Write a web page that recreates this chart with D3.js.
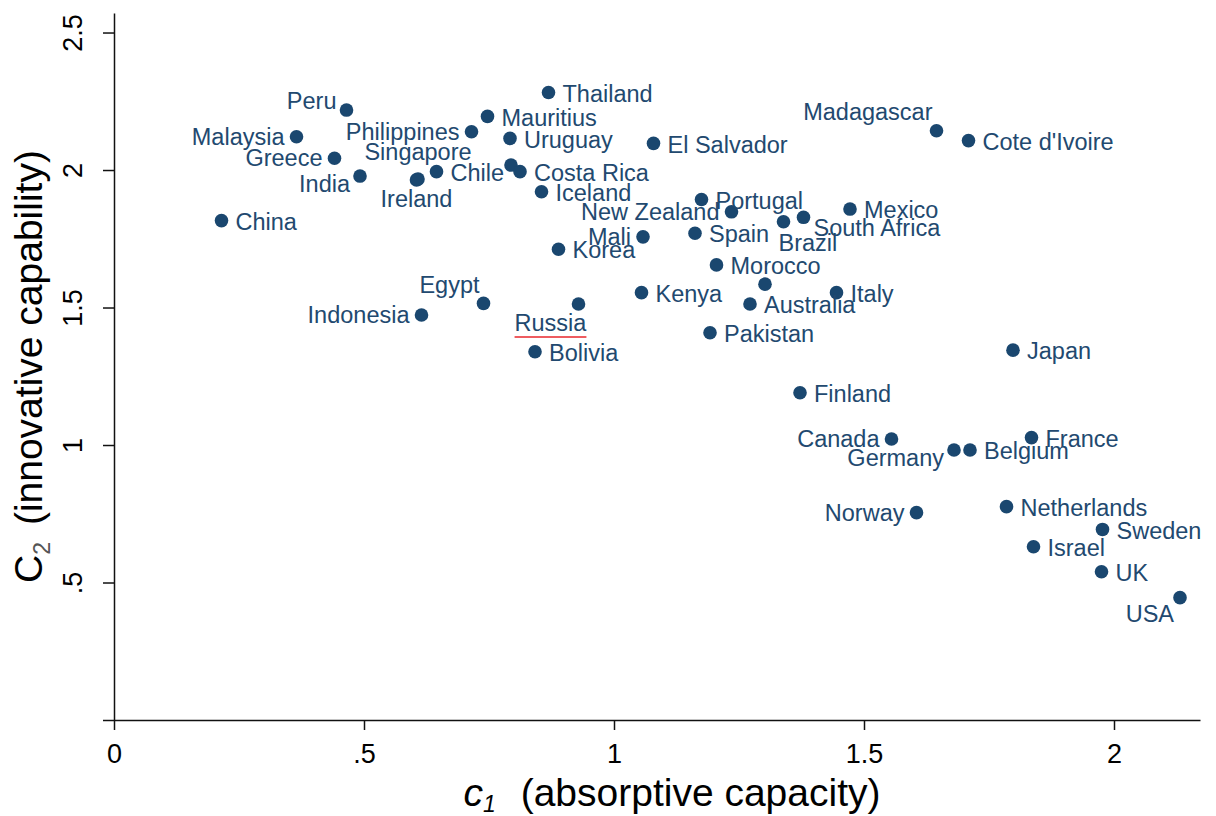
<!DOCTYPE html>
<html>
<head>
<meta charset="utf-8">
<script src="https://cdn.jsdelivr.net/npm/d3@7"></script>
<style>
  html, body { margin: 0; padding: 0; background: #ffffff; }
  svg { display: block; font-family: "Liberation Sans", Arial, sans-serif; }
</style>
</head>
<body>
<div id="chart"></div>
<script>
// --- data ---
const countries = ["China", "Malaysia", "Peru", "Greece", "India", "Ireland", "Singapore", "Chile",
  "Philippines", "Mauritius", "Uruguay", "", "Costa Rica", "Iceland", "Thailand", "Korea", "Mali",
  "El Salvador", "Madagascar", "Cote d'Ivoire", "Portugal", "New Zealand", "Brazil", "South Africa",
  "Mexico", "Spain", "Morocco", "", "Kenya", "Australia", "Italy", "Pakistan", "Russia", "Egypt",
  "Indonesia", "Bolivia", "Japan", "Finland", "Canada", "Germany", "Belgium", "France", "Norway",
  "Netherlands", "Sweden", "Israel", "UK", "USA"];
const c1 = [0.215, 0.365, 0.465, 0.441, 0.492, 0.605, 0.608, 0.645,
  0.715, 0.747, 0.792, 0.794, 0.812, 0.855, 0.869, 0.889, 1.058,
  1.079, 1.645, 1.709, 1.175, 1.235, 1.339, 1.379,
  1.472, 1.162, 1.205, 1.302, 1.055, 1.272, 1.445, 1.192, 0.929, 0.739,
  0.615, 0.842, 1.798, 1.372, 1.555, 1.680, 1.712, 1.835, 1.605,
  1.785, 1.977, 1.839, 1.975, 2.132];
const c2 = [1.816, 2.121, 2.218, 2.043, 1.978, 1.964, 1.967, 1.994,
  2.139, 2.195, 2.115, 2.018, 1.994, 1.921, 2.282, 1.712, 1.757,
  2.097, 2.143, 2.107, 1.893, 1.848, 1.812, 1.828,
  1.858, 1.770, 1.655, 1.585, 1.554, 1.513, 1.554, 1.408, 1.513, 1.515,
  1.473, 1.339, 1.345, 1.190, 1.022, 0.982, 0.982, 1.027, 0.754,
  0.776, 0.693, 0.630, 0.539, 0.445];
// marker label position, clock style (0 = no label)
const labelPos = [3, 9, 10, 9, 8, 6, 12, 3,
  9, 3, 3, 0, 3, 3, 3, 3, 9,
  3, 11, 3, 3, 9, 5, 4,
  3, 3, 3, 0, 3, 3, 3, 3, 0, 11,
  9, 3, 3, 3, 9, 8, 3, 3, 9,
  3, 3, 3, 3, 7];

// hand-placed note on the chart
const noteText = ["Russia"];
const noteC1 = [0.873];
const noteC2 = [1.444];

const xTicks = [0, 0.5, 1, 1.5, 2];
const xTickLabels = ["0", ".5", "1", "1.5", "2"];
const yTicks = [0, 0.5, 1, 1.5, 2, 2.5];
const yTickLabels = ["", ".5", "1", "1.5", "2", "2.5"];

// --- style ---
const W = 1216, H = 816;
const NAVY = "#1a476f";
const LABEL_COLOR = "#22496f";
const LABEL_SIZE = 23.5;
const CLOCK = {
  3:  { anchor: "start",  dx: 14,  dy: 1 },
  9:  { anchor: "end",    dx: -12, dy: 0 },
  12: { anchor: "middle", dx: 0,   dy: -27 },
  6:  { anchor: "middle", dx: 0,   dy: 19 },
  11: { anchor: "end",    dx: -4,  dy: -19 },
  10: { anchor: "end",    dx: -10, dy: -9 },
  4:  { anchor: "start",  dx: 10,  dy: 10 },
  5:  { anchor: "start",  dx: -5,  dy: 21 },
  8:  { anchor: "end",    dx: -10, dy: 8 },
  7:  { anchor: "end",    dx: -6,  dy: 16 }
};

const svg = d3.select("#chart").append("svg")
  .attr("width", W)
  .attr("height", H);

svg.append("rect").attr("width", W).attr("height", H).attr("fill", "#ffffff");

const x = d3.scaleLinear().domain([0, 2.172]).range([114, 1200]);
const y = d3.scaleLinear().domain([0, 2.571]).range([720, 13]);

// x axis
const gx = svg.append("g")
  .attr("transform", `translate(0,${y(0)})`)
  .style("color", "#111")
  .call(d3.axisBottom(x)
    .tickValues(xTicks)
    .tickFormat((d, i) => xTickLabels[i])
    .tickSize(10)
    .tickSizeOuter(0));
gx.selectAll("text")
  .attr("y", 43)
  .attr("dy", null)
  .style("font-size", "27px")
  .style("font-family", "'Liberation Sans', Arial, sans-serif")
  .attr("fill", "#000");

// y axis
const gy = svg.append("g")
  .attr("transform", `translate(${x(0)},0)`)
  .style("color", "#111")
  .call(d3.axisLeft(y)
    .tickValues(yTicks)
    .tickFormat((d, i) => yTickLabels[i])
    .tickSize(11)
    .tickSizeOuter(0));
gy.selectAll("text")
  .attr("x", null)
  .attr("dy", null)
  .attr("text-anchor", "middle")
  .attr("transform", "translate(-32,0) rotate(-90)")
  .style("font-size", "27px")
  .style("font-family", "'Liberation Sans', Arial, sans-serif")
  .attr("fill", "#000");

svg.selectAll(".domain, .tick line").attr("stroke-width", 1.5);

// axis titles
const xTitle = svg.append("text")
  .attr("x", 672)
  .attr("y", 806)
  .attr("text-anchor", "middle")
  .style("font-size", "39px")
  .attr("fill", "#000");
xTitle.append("tspan").style("font-style", "italic").text("c");
xTitle.append("tspan").style("font-style", "italic").style("font-size", "23px").attr("dy", 6).text("1");
xTitle.append("tspan").attr("dy", -6).attr("dx", 14).text(" (absorptive capacity)");

const yTitle = svg.append("text")
  .attr("transform", `translate(42,${(y.range()[0] + y.range()[1]) / 2}) rotate(-90)`)
  .attr("text-anchor", "middle")
  .style("font-size", "39px")
  .attr("fill", "#000");
yTitle.append("tspan").text("C");
yTitle.append("tspan").style("font-size", "23px").attr("dy", 8).attr("fill", "#555").text("2");
yTitle.append("tspan").attr("dy", -8).attr("dx", 6).text(" (innovative capability)");

// points
const pts = countries.map((name, i) => ({ name, c1: c1[i], c2: c2[i], pos: labelPos[i] }));

svg.append("g").selectAll("circle")
  .data(pts)
  .enter()
  .append("circle")
  .attr("cx", d => x(d.c1))
  .attr("cy", d => y(d.c2))
  .attr("r", 6.8)
  .attr("fill", NAVY);

svg.append("g").selectAll("text")
  .data(pts.filter(d => d.pos && d.name))
  .enter()
  .append("text")
  .attr("x", d => x(d.c1) + CLOCK[d.pos].dx)
  .attr("y", d => y(d.c2) + CLOCK[d.pos].dy)
  .attr("dy", "0.35em")
  .attr("text-anchor", d => CLOCK[d.pos].anchor)
  .style("font-size", LABEL_SIZE + "px")
  .attr("fill", LABEL_COLOR)
  .text(d => d.name);

// note with red underline
const notes = noteText.map((t, i) => ({ t, c1: noteC1[i], c2: noteC2[i] }));
const ng = svg.append("g").selectAll("g")
  .data(notes)
  .enter()
  .append("g");
ng.append("text")
  .attr("x", d => x(d.c1))
  .attr("y", d => y(d.c2))
  .attr("dy", "0.35em")
  .attr("text-anchor", "middle")
  .style("font-size", LABEL_SIZE + "px")
  .attr("fill", LABEL_COLOR)
  .text(d => d.t);
ng.each(function (d) {
  const w = d3.select(this).select("text").node().getComputedTextLength();
  d3.select(this).append("line")
    .attr("x1", x(d.c1) - w / 2)
    .attr("x2", x(d.c1) + w / 2)
    .attr("y1", y(d.c2) + 14)
    .attr("y2", y(d.c2) + 14)
    .attr("stroke", "#e8262b")
    .attr("stroke-width", 1.5);
});
</script>
</body>
</html>
